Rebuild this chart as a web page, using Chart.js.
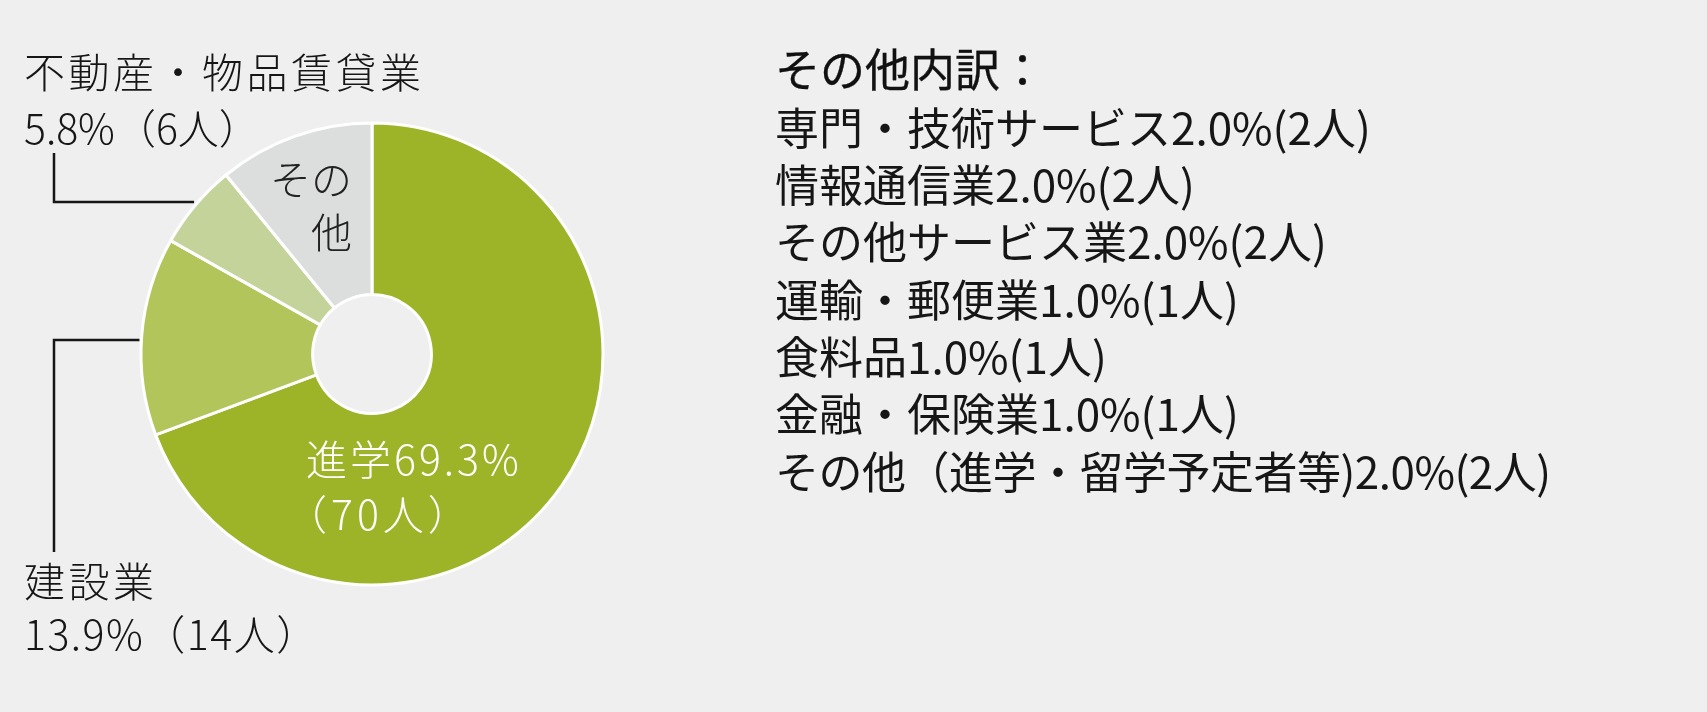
<!DOCTYPE html>
<html lang="ja">
<head>
<meta charset="utf-8">
<script src="https://cdn.jsdelivr.net/npm/chart.js@4"></script>
<style>
  html, body { margin: 0; padding: 0; background: #efefef; }
  #wrap { position: relative; width: 1707px; height: 712px; }
</style>
</head>
<body>
<div id="wrap"><canvas id="pie"></canvas></div>
<script>
// 卒業後の進路（人数）
const categories = ["進学", "建設業", "不動産・物品賃貸業", "その他"];
const persons = [70, 14, 6, 11];
const percents = ["69.3", "13.9", "5.8", "10.9"];
const colors = ["#9db429", "#b1c55a", "#c3d39a", "#dcdedd"];

// その他内訳
const otherItems = [
  "専門・技術サービス",
  "情報通信業",
  "その他サービス業",
  "運輸・郵便業",
  "食料品",
  "金融・保険業",
  "その他（進学・留学予定者等)",
];
const otherPercents = ["2.0", "2.0", "2.0", "1.0", "1.0", "1.0", "2.0"];
const otherPersons = [2, 2, 2, 1, 1, 1, 2];

const FONT = '"Noto Sans CJK JP", "Noto Sans", sans-serif';

document.addEventListener("DOMContentLoaded", function () {
  const drawText = (ctx, text, x, y, opts) => {
    ctx.save();
    ctx.font = (opts.weight || 300) + " " + (opts.size || 41) + "px " + FONT;
    ctx.fillStyle = opts.color || "#161616";
    ctx.textAlign = opts.align || "left";
    ctx.textBaseline = "middle";
    ctx.letterSpacing = (opts.ls || 0) + "px";
    ctx.fillText(text, x, y);
    if (opts.stroke) {
      // a touch heavier than regular
      ctx.strokeStyle = ctx.fillStyle;
      ctx.lineWidth = opts.stroke;
      ctx.strokeText(text, x, y);
    }
    ctx.restore();
  };

  const labelsPlugin = {
    id: "labels",
    afterDraw(chart) {
      const ctx = chart.ctx;
      const arcs = chart.getDatasetMeta(0).data;
      const cx = arcs[0].x;
      const cy = arcs[0].y;
      const r = arcs[0].outerRadius;
      const edgeX = (y) => cx - Math.sqrt(r * r - (y - cy) * (y - cy));

      // leader lines
      ctx.save();
      ctx.strokeStyle = "#161616";
      ctx.lineWidth = 2.5;
      ctx.beginPath();
      ctx.moveTo(54, 153);
      ctx.lineTo(54, 202);
      ctx.lineTo(edgeX(202) - 4, 202);
      ctx.moveTo(54, 552);
      ctx.lineTo(54, 340);
      ctx.lineTo(edgeX(340) - 2, 340);
      ctx.stroke();
      ctx.restore();

      // 不動産・物品賃貸業
      drawText(ctx, categories[2], 24, 72, { ls: 3.5 });
      drawText(ctx, percents[2] + "%（" + persons[2] + "人）", 24, 128, {});
      // 建設業
      drawText(ctx, categories[1], 24, 581, { ls: 3.5 });
      drawText(ctx, percents[1] + "%（" + persons[1] + "人）", 24, 634, { ls: 1.5 });
      // 進学
      drawText(ctx, categories[0] + percents[0] + "%", 306, 459, { ls: 3, color: "#ffffff" });
      drawText(ctx, "（" + persons[0] + "人）", 286, 514, { ls: 4, color: "#ffffff" });
      // その他
      drawText(ctx, categories[3].slice(0, 2), 352, 179, { align: "right", color: "#222222" });
      drawText(ctx, categories[3].slice(2), 352, 232, { align: "right", color: "#222222" });

      // その他内訳
      drawText(ctx, "その他内訳：", 775, 70, { size: 45, weight: 400, color: "#111111", stroke: 0.35 });
      otherItems.forEach((item, i) => {
        drawText(
          ctx,
          item + otherPercents[i] + "%(" + otherPersons[i] + "人)",
          775,
          128 + i * 57.3,
          { size: 44, weight: 400, color: "#161616", ls: i === 6 ? -0.5 : 0 }
        );
      });
    },
  };

  new Chart(document.getElementById("pie"), {
    type: "doughnut",
    data: {
      labels: categories,
      datasets: [
        {
          data: persons,
          backgroundColor: colors,
          borderColor: "#ffffff",
          borderWidth: 3,
          hoverOffset: 0,
        },
      ],
    },
    options: {
      responsive: true,
      maintainAspectRatio: false,
      animation: false,
      radius: 231,
      cutout: 59,
      layout: {
        padding: { left: 141, top: 123, right: 1104, bottom: 127 },
      },
      plugins: {
        legend: { display: false },
        tooltip: { enabled: false },
      },
    },
    plugins: [labelsPlugin],
  });
});
</script>
</body>
</html>
